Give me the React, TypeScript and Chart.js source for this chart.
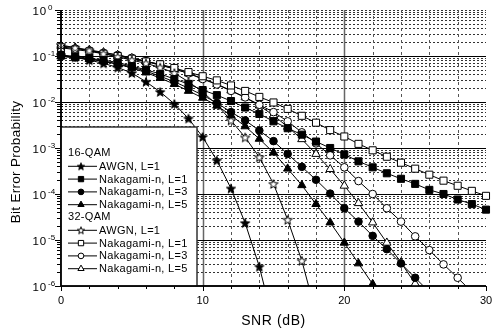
import React, { useEffect, useRef } from 'react';
import { Chart, registerables } from 'chart.js';
import { drawPoint } from 'chart.js/helpers';

Chart.register(...registerables);

// ---------------- data ----------------
const SNR_DB = [0, 1, 2, 3, 4, 5, 6, 7, 8, 9, 10, 11, 12, 13, 14, 15, 16, 17, 18, 19, 20, 21, 22, 23, 24, 25, 26, 27, 28, 29, 30];

const QAM16_AWGN_L1 = [1.05e-1, 9.33e-2, 8.13e-2, 6.92e-2, 5.62e-2, 4.27e-2, 2.75e-2, 1.66e-2, 9.12e-3, 4.37e-3, 1.74e-3, 5.37e-4, 1.32e-4, 2.34e-5, 2.63e-6, 1.58e-7];
const QAM16_NAK_L1 = [1.05e-1, 9.77e-2, 8.91e-2, 8.13e-2, 7.24e-2, 6.03e-2, 5.01e-2, 4.07e-2, 3.16e-2, 2.45e-2, 1.82e-2, 1.41e-2, 1.05e-2, 7.59e-3, 5.50e-3, 3.80e-3, 2.69e-3, 1.95e-3, 1.38e-3, 1.00e-3, 7.24e-4, 5.13e-4, 3.80e-4, 2.82e-4, 2.14e-4, 1.66e-4, 1.23e-4, 1.00e-4, 7.59e-5, 6.03e-5, 4.57e-5];
const QAM16_NAK_L3 = [1.00e-1, 9.33e-2, 8.71e-2, 7.76e-2, 6.76e-2, 5.75e-2, 4.68e-2, 3.63e-2, 2.75e-2, 2.00e-2, 1.41e-2, 9.55e-3, 6.03e-3, 3.98e-3, 2.40e-3, 1.41e-3, 7.41e-4, 3.89e-4, 2.04e-4, 1.02e-4, 4.90e-5, 2.51e-5, 1.23e-5, 6.31e-6, 3.09e-6, 1.51e-6, 7.41e-7];
const QAM16_NAK_L5 = [9.77e-2, 9.12e-2, 8.51e-2, 7.59e-2, 6.61e-2, 5.50e-2, 4.37e-2, 3.31e-2, 2.45e-2, 1.74e-2, 1.23e-2, 8.32e-3, 5.13e-3, 2.95e-3, 1.58e-3, 7.94e-4, 3.55e-4, 1.55e-4, 6.03e-5, 2.40e-5, 8.71e-6, 3.09e-6, 1.10e-6, 3.55e-7];

const QAM32_AWGN_L1 = [1.74e-1, 1.51e-1, 1.32e-1, 1.12e-1, 9.55e-2, 8.13e-2, 6.92e-2, 5.62e-2, 4.27e-2, 2.75e-2, 1.66e-2, 8.71e-3, 3.98e-3, 1.70e-3, 6.31e-4, 1.66e-4, 2.75e-5, 3.55e-6, 2.51e-7];
const QAM32_NAK_L1 = [1.51e-1, 1.38e-1, 1.26e-1, 1.12e-1, 1.00e-1, 8.71e-2, 7.59e-2, 6.61e-2, 5.50e-2, 4.47e-2, 3.63e-2, 2.95e-2, 2.29e-2, 1.74e-2, 1.29e-2, 9.77e-3, 7.08e-3, 5.01e-3, 3.55e-3, 2.45e-3, 1.78e-3, 1.23e-3, 8.91e-4, 6.46e-4, 4.79e-4, 3.55e-4, 2.63e-4, 1.95e-4, 1.51e-4, 1.17e-4, 9.12e-5];
const QAM32_NAK_L3 = [1.58e-1, 1.45e-1, 1.32e-1, 1.17e-1, 1.05e-1, 9.12e-2, 7.76e-2, 6.46e-2, 5.25e-2, 4.17e-2, 3.16e-2, 2.40e-2, 1.74e-2, 1.26e-2, 8.71e-3, 6.03e-3, 3.80e-3, 2.19e-3, 1.26e-3, 6.92e-4, 3.80e-4, 1.91e-4, 1.00e-4, 4.90e-5, 2.51e-5, 1.20e-5, 6.03e-6, 2.95e-6, 1.51e-6, 7.41e-7];
const QAM32_NAK_L5 = [1.66e-1, 1.51e-1, 1.35e-1, 1.20e-1, 1.05e-1, 8.91e-2, 7.59e-2, 6.31e-2, 5.25e-2, 4.17e-2, 3.24e-2, 2.45e-2, 1.78e-2, 1.26e-2, 8.32e-3, 5.13e-3, 2.88e-3, 1.55e-3, 7.41e-4, 3.47e-4, 1.51e-4, 6.31e-5, 2.40e-5, 8.71e-6, 3.24e-6, 1.12e-6, 3.98e-7];

const SERIES_LABELS = ['AWGN, L=1', 'Nakagami-n, L=1', 'Nakagami-n, L=3', 'Nakagami-n, L=5'];
const GROUP_LABELS = ['16-QAM', '32-QAM'];

const X_MIN = 0;
const X_MAX = 30;
const X_TICK_STEP = 2;
const X_TICK_LABELS = [0, 10, 20, 30];
const Y_DECADES = [-6, -5, -4, -3, -2, -1, 0];

const X_TITLE = 'SNR (dB)';
const Y_TITLE = 'Bit Error Probability';

const FONT = "'Liberation Sans', Arial, Helvetica, sans-serif";

function makeStar(filled: boolean, outer: number, inner: number): HTMLCanvasElement {
  const c = document.createElement('canvas');
  const s = Math.ceil(outer * 2 + 2);
  c.width = s;
  c.height = s;
  const g = c.getContext('2d')!;
  const cx = s / 2;
  const cy = s / 2 + outer * 0.1;
  g.beginPath();
  for (let i = 0; i < 10; i++) {
    const r = i % 2 === 0 ? outer : inner;
    const a = -Math.PI / 2 + (i * Math.PI) / 5;
    const px = cx + r * Math.cos(a);
    const py = cy + r * Math.sin(a);
    if (i === 0) g.moveTo(px, py);
    else g.lineTo(px, py);
  }
  g.closePath();
  g.fillStyle = filled ? '#000' : '#fff';
  g.fill();
  g.lineWidth = 1;
  g.strokeStyle = '#000';
  g.stroke();
  return c;
}

function toPoints(values: number[]) {
  return values.map((v, i) => ({ x: SNR_DB[i], y: v }));
}

const paperPlugin = {
  id: 'paperAxes',
  beforeDatasetsDraw(chart: any) {
    const { ctx, chartArea: a, scales } = chart;
    const xs = scales.x;
    const ys = scales.y;
    ctx.save();
    const hline = (y: number) => {
      ctx.beginPath();
      ctx.moveTo(a.left, y);
      ctx.lineTo(a.right, y);
      ctx.stroke();
    };
    const vline = (x: number) => {
      ctx.beginPath();
      ctx.moveTo(x, a.top);
      ctx.lineTo(x, a.bottom);
      ctx.stroke();
    };
    // minor horizontal grid (dotted)
    ctx.lineWidth = 1;
    ctx.strokeStyle = '#333';
    ctx.setLineDash([2, 2]);
    for (let d = Y_DECADES[0]; d < Y_DECADES[Y_DECADES.length - 1]; d++) {
      for (let m = 2; m <= 9; m++) {
        hline(Math.round(ys.getPixelForValue(m * Math.pow(10, d))) + 0.5);
      }
    }
    hline(Math.round(ys.getPixelForValue(1)) + 0.5);
    // vertical dashed grid
    ctx.setLineDash([3, 3]);
    ctx.strokeStyle = '#555';
    for (let x = X_MIN + X_TICK_STEP; x < X_MAX; x += X_TICK_STEP) {
      if (x % 10 === 0) continue;
      vline(Math.round(xs.getPixelForValue(x)) + 0.5);
    }
    ctx.setLineDash([]);
    // solid verticals at 10, 20
    ctx.strokeStyle = '#666';
    ctx.lineWidth = 1.5;
    for (const x of X_TICK_LABELS) {
      if (x === X_MIN || x === X_MAX) continue;
      vline(Math.round(xs.getPixelForValue(x)) + 0.5);
    }
    // major horizontals
    ctx.strokeStyle = '#000';
    ctx.lineWidth = 1;
    for (const d of Y_DECADES) {
      if (d === Y_DECADES[0] || d === Y_DECADES[Y_DECADES.length - 1]) continue;
      hline(Math.round(ys.getPixelForValue(Math.pow(10, d))) + 0.5);
    }
    // axes
    ctx.lineWidth = 1.5;
    ctx.beginPath();
    ctx.moveTo(a.left, a.top);
    ctx.lineTo(a.left, a.bottom);
    ctx.lineTo(a.right, a.bottom);
    ctx.stroke();
    // y ticks
    ctx.lineWidth = 1;
    for (let d = Y_DECADES[0]; d <= Y_DECADES[Y_DECADES.length - 1]; d++) {
      for (let m = 1; m <= 9; m++) {
        const v = m * Math.pow(10, d);
        if (v > 1.0001) break;
        const y = Math.round(ys.getPixelForValue(v)) + 0.5;
        const len = m === 1 ? 6 : 4;
        ctx.beginPath();
        ctx.moveTo(a.left - len, y);
        ctx.lineTo(a.left + 2, y);
        ctx.stroke();
      }
    }
    // x ticks
    for (let x = X_MIN; x <= X_MAX; x += X_TICK_STEP) {
      const px = Math.round(xs.getPixelForValue(x)) + 0.5;
      const len = x % 10 === 0 ? 5 : 3;
      ctx.beginPath();
      ctx.moveTo(px, a.bottom);
      ctx.lineTo(px, a.bottom + len);
      ctx.stroke();
    }
    ctx.restore();
  },
  afterDatasetsDraw(chart: any) {
    const { ctx, chartArea: a } = chart;
    const ds = chart.data.datasets;
    ctx.save();
    // legend box
    const bx = a.left;
    const by = 127;
    const bw = 136;
    const bh = a.bottom - by;
    ctx.fillStyle = '#fff';
    ctx.fillRect(bx, by, bw, bh);
    ctx.strokeStyle = '#333';
    ctx.lineWidth = 1.5;
    ctx.strokeRect(bx, by, bw, bh);
    ctx.lineWidth = 1.5;
    ctx.beginPath();
    ctx.moveTo(a.left, a.top);
    ctx.lineTo(a.left, a.bottom);
    ctx.lineTo(a.right, a.bottom);
    ctx.strokeStyle = '#000';
    ctx.stroke();

    ctx.font = `11px ${FONT}`;
    (ctx as any).letterSpacing = '0.3px';
    ctx.textBaseline = 'middle';
    ctx.textAlign = 'left';
    ctx.fillStyle = '#000';
    const rowY0 = 153;
    const step = 12.8;
    let row = 0;
    for (let g = 0; g < GROUP_LABELS.length; g++) {
      const y = rowY0 + step * row++;
      ctx.fillStyle = '#000';
      ctx.fillText(GROUP_LABELS[g], bx + 7, y);
      for (let s = 0; s < SERIES_LABELS.length; s++) {
        const d = ds[g * SERIES_LABELS.length + s];
        const yy = rowY0 + step * row++;
        ctx.strokeStyle = '#000';
        ctx.lineWidth = 1;
        ctx.beginPath();
        ctx.moveTo(bx + 7, yy + 0.5);
        ctx.lineTo(bx + 36, yy + 0.5);
        ctx.stroke();
        ctx.fillStyle = d.pointBackgroundColor;
        ctx.strokeStyle = '#000';
        drawPoint(ctx, { pointStyle: d.legendStyle, rotation: 0, radius: d.pointRadius * 0.75, borderWidth: 1 } as any, bx + 20, yy + 0.5);
        ctx.fillStyle = '#000';
        ctx.fillText(d.label, bx + 38, yy + 1);
      }
    }
    ctx.restore();
  },
  afterDraw(chart: any) {
    const { ctx, chartArea: a, scales } = chart;
    const xs = scales.x;
    const ys = scales.y;
    ctx.save();
    ctx.fillStyle = '#000';
    // x tick labels
    ctx.font = `11px ${FONT}`;
    ctx.textAlign = 'center';
    ctx.textBaseline = 'middle';
    for (const x of X_TICK_LABELS) {
      ctx.fillText(String(x), xs.getPixelForValue(x), a.bottom + 15);
    }
    // y tick labels 10^n
    for (const d of Y_DECADES) {
      const y = ys.getPixelForValue(Math.pow(10, d));
      ctx.font = `11.5px ${FONT}`;
      (ctx as any).letterSpacing = '0.8px';
      ctx.textAlign = 'right';
      ctx.textBaseline = 'middle';
      ctx.fillText('10', a.left - 14, y + 2);
      ctx.font = `8px ${FONT}`;
      (ctx as any).letterSpacing = '0px';
      ctx.textAlign = 'left';
      ctx.fillText(String(d), a.left - 13, y - 2);
    }
    // axis titles
    ctx.font = `14px ${FONT}`;
    (ctx as any).letterSpacing = '0.6px';
    ctx.textAlign = 'center';
    ctx.textBaseline = 'middle';
    ctx.fillText(X_TITLE, (a.left + a.right) / 2, 321);
    ctx.save();
    ctx.translate(16, 162);
    ctx.rotate(-Math.PI / 2);
    ctx.font = `13.5px ${FONT}`;
    (ctx as any).letterSpacing = '0.3px';
    ctx.fillText(Y_TITLE, 0, 0);
    ctx.restore();
    ctx.restore();
  },
};

export default function App() {
  const ref = useRef<HTMLCanvasElement | null>(null);

  useEffect(() => {
    document.body.style.margin = '0';
    const canvas = ref.current;
    if (!canvas) return;
    const starFilled = makeStar(true, 4.8, 2.0);
    const starOpen = makeStar(false, 4.8, 2.0);
    const starFilledSmall = makeStar(true, 3.8, 1.6);
    const starOpenSmall = makeStar(false, 3.8, 1.6);

    const mk = (label: string, values: number[], style: any, legendStyle: any, filled: boolean, radius: number) => ({
      label,
      data: toPoints(values),
      borderColor: '#000',
      borderWidth: 1,
      pointStyle: style,
      legendStyle,
      pointRadius: radius,
      pointHoverRadius: radius,
      pointBackgroundColor: filled ? '#000' : '#fff',
      pointBorderColor: '#000',
      pointBorderWidth: 1,
      tension: 0,
      fill: false,
      clip: { left: 10, right: 10, top: 10, bottom: 0 },
    });

    const datasets = [
      mk(SERIES_LABELS[0], QAM16_AWGN_L1, starFilled, starFilledSmall, true, 5),
      mk(SERIES_LABELS[1], QAM16_NAK_L1, 'rect', 'rect', true, 5),
      mk(SERIES_LABELS[2], QAM16_NAK_L3, 'circle', 'circle', true, 3.8),
      mk(SERIES_LABELS[3], QAM16_NAK_L5, 'triangle', 'triangle', true, 4.8),
      mk(SERIES_LABELS[0], QAM32_AWGN_L1, starOpen, starOpenSmall, false, 5),
      mk(SERIES_LABELS[1], QAM32_NAK_L1, 'rect', 'rect', false, 5),
      mk(SERIES_LABELS[2], QAM32_NAK_L3, 'circle', 'circle', false, 3.8),
      mk(SERIES_LABELS[3], QAM32_NAK_L5, 'triangle', 'triangle', false, 4.8),
    ];

    const chart = new Chart(canvas, {
      type: 'line',
      data: { datasets: datasets as any },
      options: {
        animation: false,
        responsive: false,
        devicePixelRatio: 1,
        layout: { padding: { left: 61, right: 6, top: 10, bottom: 46 } },
        plugins: { legend: { display: false }, tooltip: { enabled: false } },
        events: [],
        scales: {
          x: { type: 'linear', min: X_MIN, max: X_MAX, display: false },
          y: { type: 'logarithmic', min: Math.pow(10, Y_DECADES[0]), max: Math.pow(10, Y_DECADES[Y_DECADES.length - 1]), display: false },
        },
      },
      plugins: [paperPlugin],
    });
    return () => chart.destroy();
  }, []);

  return (
    <div style={{ width: 492, height: 332, background: '#fff' }}>
      <canvas ref={ref} width={492} height={332} style={{ display: 'block', width: 492, height: 332 }} />
    </div>
  );
}
